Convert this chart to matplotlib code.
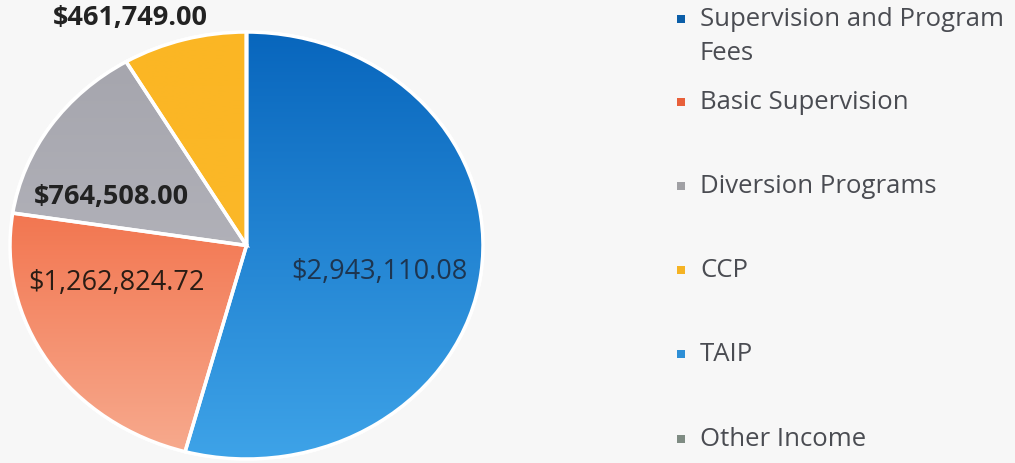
import numpy as np
import matplotlib.pyplot as plt
from matplotlib.patches import Rectangle, PathPatch
from matplotlib.colors import LinearSegmentedColormap

# Revenue by source
categories = ['Supervision and Program\nFees', 'Basic Supervision', 'Diversion Programs',
              'CCP', 'TAIP', 'Other Income']
values = [2943110.08, 1262824.72, 764508.00, 461749.00, 0.0, 0.0]
wedge_colors = ['#1c7fcf', '#f26d43', '#acacb4', '#fbb828', '#2e8fd6', '#7f8c83']
# top / bottom shades for the gradient fill of each wedge
grad_top = ['#0866bd', '#ef4f22', '#a4a4ac', '#fbb624', '#2e8fd6', '#7f8c83']
grad_bot = ['#3ea3e8', '#f7ab8f', '#bdbdc4', '#fbba2c', '#2e8fd6', '#7f8c83']
legend_colors = ['#0b5ea8', '#e8603a', '#a0a0a4', '#f5b324', '#2e8fd6', '#7f8c83']

plt.rcParams['font.family'] = ['Open Sans', 'DejaVu Sans']

fig = plt.figure(figsize=(10.15, 4.64), dpi=100, facecolor='#f7f7f7')
W, H = 1015, 464
ax = fig.add_axes([10 / W, (H - 460) / H, 473 / W, 427 / H])
ax.set_facecolor('none')

wedges, _ = ax.pie(values, colors=wedge_colors, startangle=90, counterclock=False,
                   wedgeprops=dict(edgecolor='white', linewidth=2.5))
ax.set_aspect('auto')

# gradient fills clipped to wedges
grad = np.linspace(0, 1, 256).reshape(-1, 1)
for w, c0, c1 in zip(wedges, grad_top, grad_bot):
    cmap = LinearSegmentedColormap.from_list('g', [c0, c1])
    im = ax.imshow(grad, extent=(-1, 1, -1, 1), origin='upper', cmap=cmap,
                   aspect='auto', zorder=w.get_zorder() + 0.1)
    im.set_clip_path(w)
    ax.add_patch(PathPatch(w.get_path(), fill=False, edgecolor='white',
                           linewidth=2.5, zorder=w.get_zorder() + 0.2))

ax.set_xlim(-1, 1)
ax.set_ylim(-1, 1)
ax.axis('off')

# value labels
fmt = lambda v: '${:,.2f}'.format(v)
ax.text(-0.49, 1.07, fmt(values[3]), ha='center', va='center', fontsize=19.5,
        fontweight='bold', color='#222222', clip_on=False, zorder=5)
ax.text(-0.57, 0.23, fmt(values[2]), ha='center', va='center', fontsize=19.5,
        fontweight='bold', color='#222222', zorder=5)
ax.text(-0.55, -0.17, fmt(values[1]), ha='center', va='center', fontsize=19.5,
        color='#2a1c14', zorder=5)
ax.text(0.56, -0.12, fmt(values[0]), ha='center', va='center', fontsize=19.5,
        color='#1d3550', zorder=5)

# legend drawn by hand to match spacing
rows = [20, 103, 187, 271, 355, 440]
for lab, col, y in zip(categories, legend_colors, rows):
    fig.patches.append(Rectangle(((681 - 4) / W, 1 - (y + 4) / H), 8 / W, 8 / H,
                                 transform=fig.transFigure, facecolor=col,
                                 edgecolor='none'))
    fig.text(700 / W, 1 - (y - 13) / H, lab, ha='left', va='top', fontsize=18.5,
             color='#4a4c52', linespacing=1.45)

fig.savefig('out.png', dpi=100, facecolor=fig.get_facecolor())
